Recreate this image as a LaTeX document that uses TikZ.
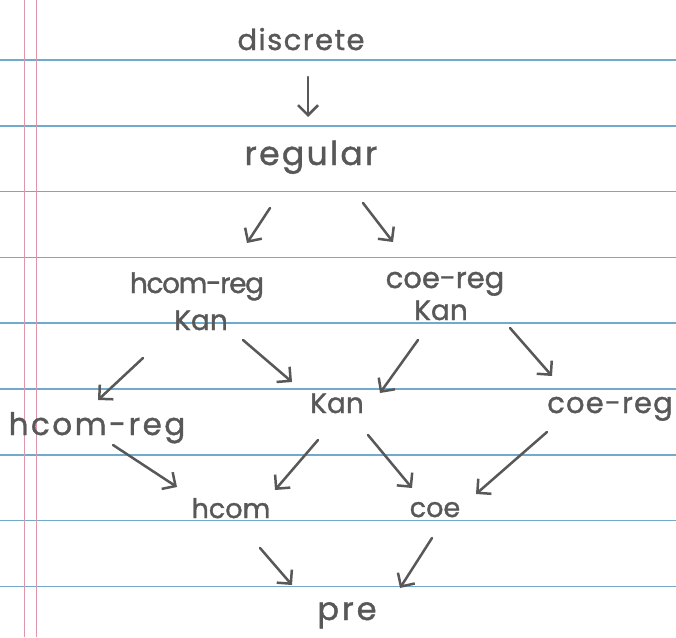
\documentclass[tikz,border=0pt]{standalone}
\usepackage{fontspec}
\setmainfont{Poppins}
\newfontfamily\hand{Poppins}[FakeBold=1.2]
\usetikzlibrary{arrows.meta}
\definecolor{ink}{RGB}{88,88,88}
\definecolor{paperblue}{RGB}{112,170,205}
\definecolor{marginred}{RGB}{222,150,170}
\begin{document}
\begin{tikzpicture}[x=1pt,y=-1pt,
  lbl/.style n args={2}{anchor=base, text=ink, inner sep=0pt,
    font=\hand\addfontfeature{LetterSpace=#2}\fontsize{#1}{#1}\selectfont},
  arr/.style={draw=ink, line width=2.5pt, line cap=round,
    -{Straight Barb[length=10pt,width=20pt,line width=2.5pt]}},
  ruleline/.style={draw=paperblue, line width=1.6pt},
  marginline/.style={draw=marginred, line width=0.9pt}]
\useasboundingbox (0,0) rectangle (676,637);
\fill[white] (0,0) rectangle (676,637);
\foreach \k in {0,...,8}
  \draw[ruleline] (0,{60+65.8*\k}) -- (676,{60+65.8*\k});
\draw[marginline] (24,0) -- (24,637);
\draw[marginline] (36,0) -- (36,637);

\node[lbl={29}{5}] (disc) at (301,50) {discrete};
\node[lbl={33}{7}] (reg) at (311,165) {regular};
\node[lbl={28}{-5}] (hk1) at (197,293) {hcom-reg};
\node[lbl={28}{0}] (hk2) at (201,330) {Kan};
\node[lbl={29}{0}] (ck1) at (445,288) {coe-reg};
\node[lbl={28}{0}] (ck2) at (441,320) {Kan};
\node[lbl={31}{8}] (hr) at (97,435) {hcom-reg};
\node[lbl={28}{0}] (kan) at (337,413) {Kan};
\node[lbl={29}{4}] (cr) at (610,413) {coe-reg};
\node[lbl={27}{0}] (hcom) at (231,518) {hcom};
\node[lbl={27}{0}] (coe) at (435,517) {coe};
\node[lbl={32}{9}] (pre) at (347,620) {pre};

\draw[arr] ([shift={(7,27)}]disc.base) -- ([shift={(-3,-48)}]reg.base);
\draw[arr] ([shift={(-41,43)}]reg.base) -- ([shift={(50,-50)}]hk1.base);
\draw[arr] ([shift={(52,38)}]reg.base) -- ([shift={(-52,-46)}]ck1.base);
\draw[arr] ([shift={(-58,28)}]hk2.base) -- ([shift={(1,-35)}]hr.base);
\draw[arr] ([shift={(42,10)}]hk2.base) -- ([shift={(-45,-31)}]kan.base);
\draw[arr] ([shift={(-23,20)}]ck2.base) -- ([shift={(43,-20)}]kan.base);
\draw[arr] ([shift={(69,8)}]ck2.base) -- ([shift={(-58,-37)}]cr.base);
\draw[arr] ([shift={(16,10)}]hr.base) -- ([shift={(-54,-31)}]hcom.base);
\draw[arr] ([shift={(-19,27)}]kan.base) -- ([shift={(44,-28)}]hcom.base);
\draw[arr] ([shift={(31,22)}]kan.base) -- ([shift={(-23,-29)}]coe.base);
\draw[arr] ([shift={(-63,19)}]cr.base) -- ([shift={(41,-23)}]coe.base);
\draw[arr] ([shift={(29,30)}]hcom.base) -- ([shift={(-55,-35)}]pre.base);
\draw[arr] ([shift={(-3,21)}]coe.base) -- ([shift={(53,-32)}]pre.base);
\end{tikzpicture}
\end{document}
